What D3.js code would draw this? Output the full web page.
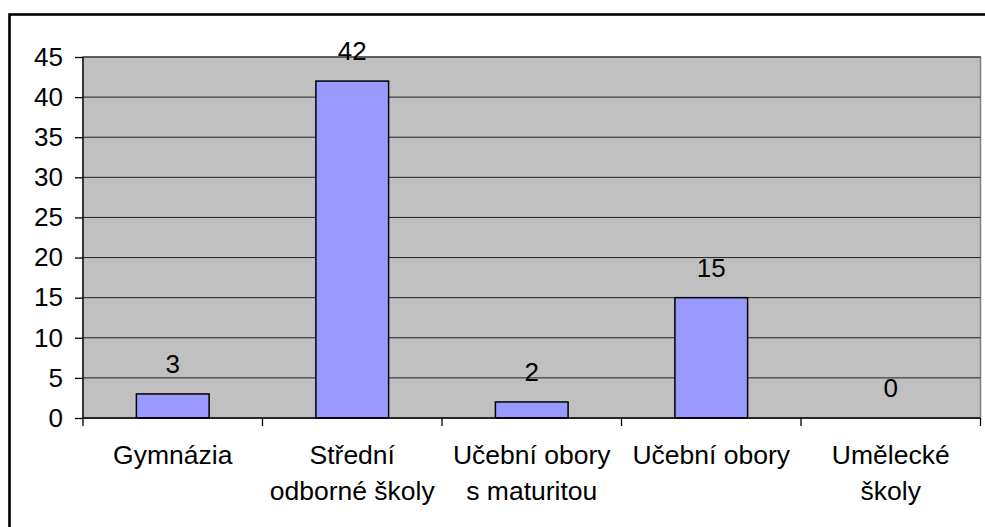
<!DOCTYPE html>
<html>
<head>
<meta charset="utf-8">
<script src="https://cdn.jsdelivr.net/npm/d3@7"></script>
<style>
  body { margin: 0; background: #fff; }
  svg text { font-family: "Liberation Sans", Arial, sans-serif; fill: #000; }
</style>
</head>
<body>
<svg id="chart" width="985" height="527"></svg>
<script>
// data
var categories = ["Gymnázia", "Střední odborné školy", "Učební obory s maturitou", "Učební obory", "Umělecké školy"];
var labelLines = [["Gymnázia"], ["Střední", "odborné školy"], ["Učební obory", "s maturitou"], ["Učební obory"], ["Umělecké", "školy"]];
var values = [3, 42, 2, 15, 0];
var yTicks = [0, 5, 10, 15, 20, 25, 30, 35, 40, 45];

var svg = d3.select("#chart");

var plot = {left: 83, right: 980.5, top: 57, bottom: 418};

// outer frame (runs past the right and bottom edges)
svg.append("rect")
  .attr("x", 9.5).attr("y", 14.5)
  .attr("width", 1100).attr("height", 700)
  .style("fill", "none")
  .style("stroke", "#000")
  .style("stroke-width", 2.6);

var x = d3.scaleBand()
  .domain(categories)
  .range([plot.left, plot.right])
  .paddingInner(0.595)
  .paddingOuter(0.2975);

var xEdge = d3.scaleLinear().domain([0, categories.length]).range([plot.left, plot.right]);

var y = d3.scaleLinear().domain([0, 45]).range([plot.bottom, plot.top]);

// plot area
svg.append("rect")
  .attr("x", plot.left).attr("y", plot.top)
  .attr("width", plot.right - plot.left).attr("height", plot.bottom - plot.top)
  .style("fill", "#c0c0c0")
  .style("stroke", "#808080")
  .style("stroke-width", 1.5);

// gridlines
svg.append("g").selectAll("line")
  .data(yTicks.filter(function(d){ return d > 0; }))
  .enter().append("line")
  .attr("x1", plot.left).attr("x2", plot.right)
  .attr("y1", function(d){ return y(d); })
  .attr("y2", function(d){ return y(d); })
  .style("stroke", "#222")
  .style("stroke-width", 1);

// bars (zero values draw nothing)
svg.append("g").selectAll("rect")
  .data(values)
  .enter().append("rect")
  .filter(function(d){ return d > 0; })
  .attr("x", function(d, i){ return x(categories[i]); })
  .attr("y", function(d){ return y(d); })
  .attr("width", x.bandwidth())
  .attr("height", function(d){ return y(0) - y(d); })
  .style("fill", "#9999ff")
  .style("stroke", "#000")
  .style("stroke-width", 1.5);

// value labels
svg.append("g").selectAll("text")
  .data(values)
  .enter().append("text")
  .attr("x", function(d, i){ return x(categories[i]) + x.bandwidth() / 2; })
  .attr("y", function(d){ return y(d) - 21; })
  .attr("text-anchor", "middle")
  .style("font-size", "26px")
  .text(function(d){ return d; });

// y axis
var yaxis = svg.append("g")
  .attr("transform", "translate(" + plot.left + ",0)")
  .call(d3.axisLeft(y).tickValues(yTicks).tickSize(8).tickPadding(12).tickSizeOuter(0));
yaxis.select(".domain").remove();
yaxis.selectAll("line").style("stroke", "#000").style("stroke-width", 1.3);
yaxis.selectAll("text")
  .style("font-size", "26px")
  .style("font-family", "'Liberation Sans', Arial, sans-serif");

svg.append("line")
  .attr("x1", plot.left).attr("x2", plot.left)
  .attr("y1", plot.top).attr("y2", plot.bottom + 8)
  .style("stroke", "#000").style("stroke-width", 1.3);

// x axis: baseline and ticks at the category edges
svg.append("line")
  .attr("x1", plot.left).attr("x2", plot.right)
  .attr("y1", plot.bottom).attr("y2", plot.bottom)
  .style("stroke", "#000").style("stroke-width", 1.3);

svg.append("g").selectAll("line")
  .data(d3.range(1, categories.length + 1))
  .enter().append("line")
  .attr("x1", function(d){ return xEdge(d); })
  .attr("x2", function(d){ return xEdge(d); })
  .attr("y1", plot.bottom).attr("y2", plot.bottom + 8)
  .style("stroke", "#000").style("stroke-width", 1.3);

// category labels
var cat = svg.append("g").selectAll("text")
  .data(labelLines)
  .enter().append("text")
  .attr("text-anchor", "middle")
  .style("font-size", "26.5px");

cat.selectAll("tspan")
  .data(function(d, i){ return d.map(function(t){ return {t: t, i: i}; }); })
  .enter().append("tspan")
  .attr("x", function(d){ return x(categories[d.i]) + x.bandwidth() / 2; })
  .attr("y", function(d, j){ return 464 + j * 36; })
  .text(function(d){ return d.t; });
</script>
</body>
</html>
